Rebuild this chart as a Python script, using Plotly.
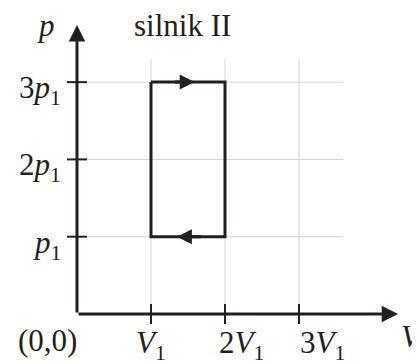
import plotly.graph_objects as go

# cykl silnika II (w jednostkach V1, p1)
cycle_v = [1, 2, 2, 1, 1]
cycle_p = [3, 3, 1, 1, 3]

v_ticks = [1, 2, 3]
v_labels = ["<i>V</i><sub>1</sub>", "2<i>V</i><sub>1</sub>", "3<i>V</i><sub>1</sub>"]
p_ticks = [1, 2, 3]
p_labels = ["<i>p</i><sub>1</sub>", "2<i>p</i><sub>1</sub>", "3<i>p</i><sub>1</sub>"]

title_text = "silnik II"

INK = "#231f20"
GRID = "#d2d2d2"
FONT = dict(family="Liberation Serif", size=31, color=INK)

v_grid_top = 3.3
p_grid_right = 3.6
v_axis_end = 4.34
p_axis_end = 3.74
tick_dx = 0.135
tick_dy = 0.13
v_label_shift = [-17, -8, -1]   # przesunięcia etykiet osi V (px)

fig = go.Figure()

shapes = []
# siatka
for v in v_ticks:
    shapes.append(dict(type="line", x0=v, x1=v, y0=0, y1=v_grid_top,
                       line=dict(color=GRID, width=1), layer="below"))
for p in p_ticks:
    shapes.append(dict(type="line", x0=0, x1=p_grid_right, y0=p, y1=p,
                       line=dict(color=GRID, width=1), layer="below"))
# kreski podziałki
for v in v_ticks:
    shapes.append(dict(type="line", x0=v, x1=v, y0=-tick_dy, y1=tick_dy,
                       line=dict(color=INK, width=2)))
for p in p_ticks:
    shapes.append(dict(type="line", x0=-tick_dx, x1=tick_dx, y0=p, y1=p,
                       line=dict(color=INK, width=2)))

fig.add_trace(go.Scatter(x=cycle_v, y=cycle_p, mode="lines",
                         line=dict(color=INK, width=3), hoverinfo="skip"))

ann = []
# osie ze strzałkami
ann.append(dict(x=v_axis_end, y=0, ax=0, ay=0, xref="x", yref="y", axref="x", ayref="y",
                text="", showarrow=True, arrowhead=2, arrowsize=1.1, arrowwidth=3,
                arrowcolor=INK, standoff=0))
ann.append(dict(x=0, y=p_axis_end, ax=0, ay=0, xref="x", yref="y", axref="x", ayref="y",
                text="", showarrow=True, arrowhead=2, arrowsize=1.1, arrowwidth=3,
                arrowcolor=INK, standoff=0))
# strzałki kierunku cyklu
v_mid = (min(cycle_v) + max(cycle_v)) / 2
ann.append(dict(x=v_mid + 0.09, y=max(cycle_p), ax=v_mid - 0.2, ay=max(cycle_p),
                xref="x", yref="y", axref="x", ayref="y", text="", showarrow=True,
                arrowhead=2, arrowsize=1.0, arrowwidth=3, arrowcolor=INK, standoff=0))
ann.append(dict(x=v_mid - 0.15, y=min(cycle_p), ax=v_mid + 0.2, ay=min(cycle_p),
                xref="x", yref="y", axref="x", ayref="y", text="", showarrow=True,
                arrowhead=2, arrowsize=1.0, arrowwidth=3, arrowcolor=INK, standoff=0))

# etykiety podziałki
for v, lab, sh in zip(v_ticks, v_labels, v_label_shift):
    ann.append(dict(x=v, y=0, xref="x", yref="y", text=lab, showarrow=False,
                    xanchor="left", yanchor="top", xshift=sh, yshift=-9, font=FONT))
for p, lab in zip(p_ticks, p_labels):
    ann.append(dict(x=0, y=p, xref="x", yref="y", text=lab, showarrow=False,
                    xanchor="right", yanchor="middle", xshift=-14, yshift=-8, font=FONT))
ann.append(dict(x=0, y=0, xref="x", yref="y", text="(0,0)", showarrow=False,
                xanchor="right", yanchor="top", xshift=2, yshift=-7, font=FONT))
# opisy osi i tytuł
ann.append(dict(x=-0.42, y=3.9, xref="x", yref="y", text="<i>p</i>", showarrow=False,
                xanchor="center", yanchor="top", yshift=7, font=FONT))
ann.append(dict(x=391 / 412, y=(356 - 309) / 356, xref="paper", yref="paper",
                text="<i>V</i>", showarrow=False,
                xanchor="left", yanchor="top", font=FONT))
ann.append(dict(x=0.74, y=3.92, xref="x", yref="y", text=title_text, showarrow=False,
                xanchor="left", yanchor="top", yshift=5, font=FONT))

# strona ma 8 px marginesu, więc wykres jest o 8 px mniejszy
fig.update_layout(
    width=412, height=356,
    margin=dict(l=0, r=0, t=0, b=0),
    paper_bgcolor="white", plot_bgcolor="white",
    showlegend=False,
    shapes=shapes,
    annotations=ann,
    xaxis=dict(range=[-0.9324, 4.635], visible=False, fixedrange=True),
    yaxis=dict(range=[-0.647, 3.959], visible=False, fixedrange=True),
)

fig.write_html("out.html")
